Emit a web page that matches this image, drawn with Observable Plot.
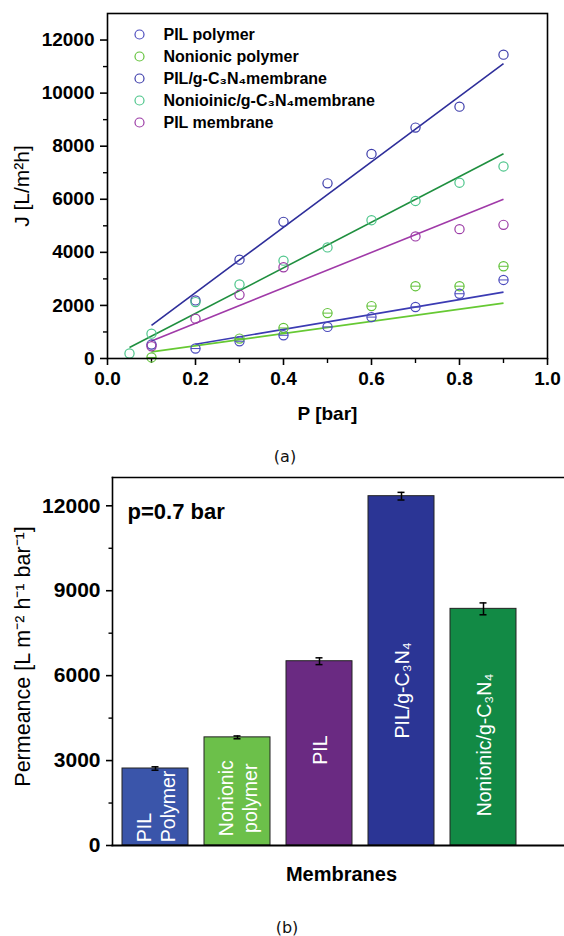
<!DOCTYPE html>
<html><head><meta charset="utf-8">
<script src="https://cdn.jsdelivr.net/npm/d3@7"></script>
<script src="https://cdn.jsdelivr.net/npm/@observablehq/plot@0.6"></script>
<style>
body{margin:0;background:#fff}
#wrap{position:relative;width:564px;height:936px;overflow:hidden;background:#fff}
.cap{position:absolute;font-family:"DejaVu Sans",sans-serif;font-size:16px;transform:translate(-50%,-50%);color:#111}
</style>
</head><body><div id="wrap"></div>
<script>
// ---------- (a) flux vs pressure ----------
const seriesNames = ["PIL polymer", "Nonionic polymer", "PIL/g-C₃N₄membrane", "Nonioinic/g-C₃N₄membrane", "PIL membrane"];
const pilPolymerP = [0.2, 0.3, 0.4, 0.5, 0.6, 0.7, 0.8, 0.9];
const pilPolymerJ = [375, 650, 875, 1190, 1560, 1940, 2440, 2960];
const nonionicPolymerP = [0.1, 0.3, 0.4, 0.5, 0.6, 0.7, 0.8, 0.9];
const nonionicPolymerJ = [40, 750, 1150, 1710, 1975, 2725, 2725, 3475];
const pilGcnP = [0.1, 0.2, 0.3, 0.4, 0.5, 0.6, 0.7, 0.8, 0.9];
const pilGcnJ = [525, 2190, 3725, 5150, 6600, 7710, 8700, 9490, 11450];
const nonionicGcnP = [0.05, 0.1, 0.2, 0.3, 0.4, 0.5, 0.6, 0.7, 0.8, 0.9];
const nonionicGcnJ = [187, 937, 2125, 2787, 3687, 4187, 5212, 5937, 6625, 7237];
const pilMemP = [0.1, 0.2, 0.3, 0.4, 0.7, 0.8, 0.9];
const pilMemJ = [462, 1500, 2400, 3437, 4600, 4875, 5037];
// fitted lines, end points
const fitP0 = [0.2, 0.1, 0.1, 0.05, 0.1];
const fitJ0 = [537, 250, 1250, 412, 662];
const fitP1 = [0.9, 0.9, 0.9, 0.9, 0.9];
const fitJ1 = [2500, 2087, 11110, 7712, 6000];
const xTicks = [0, 0.2, 0.4, 0.6, 0.8, 1.0];
const xMinor = [0.1, 0.3, 0.5, 0.7, 0.9];
const yTicks = [0, 2000, 4000, 6000, 8000, 10000, 12000];
const yMinor = [1000, 3000, 5000, 7000, 9000, 11000];

// styles
const markerColors = ["#4b4bbd", "#62c23a", "#3c3caa", "#4cc58a", "#9b3aa5"];
const lineColors = ["#3b3bb3", "#66c933", "#2e2e9a", "#1f8f3f", "#a03aa8"];
const hasBar = [true, true, false, false, false];

const allP = [pilPolymerP, nonionicPolymerP, pilGcnP, nonionicGcnP, pilMemP];
const allJ = [pilPolymerJ, nonionicPolymerJ, pilGcnJ, nonionicGcnJ, pilMemJ];
const points = allP.flatMap((ps, i) => ps.map((p, k) => ({p, j: allJ[i][k], color: markerColors[i], bar: hasBar[i]})));
const fits = seriesNames.map((s, i) => ({p0: fitP0[i], j0: fitJ0[i], p1: fitP1[i], j1: fitJ1[i], color: lineColors[i]}));

const barSymbol = {draw(ctx, size) { const r = Math.sqrt(size / Math.PI); ctx.moveTo(-r, 0); ctx.lineTo(r, 0); }};
const FONT = "'Liberation Sans', Arial, sans-serif";

const legendMarks = seriesNames.flatMap((name, i) => [
  Plot.dot([name], {x: null, y: null, frameAnchor: "top-left", dx: 32, dy: 21 + 22 * i, r: 4.5, stroke: markerColors[i], strokeWidth: 1.2}),
  Plot.text([name], {x: null, y: null, text: d => d, frameAnchor: "top-left", dx: 56, dy: 21 + 22 * i, textAnchor: "start", lineAnchor: "middle", fontSize: 16, fontWeight: "bold"})
]);

const chartA = Plot.plot({
  width: 564, height: 440,
  marginTop: 13, marginBottom: 82, marginLeft: 107, marginRight: 17,
  x: {domain: [0, 1], axis: null},
  y: {domain: [0, 13000], axis: null},
  color: {type: "identity"},
  style: {fontFamily: FONT, fontWeight: "bold", background: "white", color: "black", overflow: "visible"},
  marks: [
    Plot.axisY({ticks: yTicks, tickFormat: "d", tickSize: 7, tickPadding: 6, fontSize: 19, strokeWidth: 1.6, label: null}),
    Plot.axisY({ticks: yMinor, tickFormat: () => "", tickSize: 4, strokeWidth: 1.4, label: null}),
    Plot.axisX({ticks: xTicks, tickFormat: d3.format(".1f"), tickSize: 7, tickPadding: 6, fontSize: 19, strokeWidth: 1.6, label: null}),
    Plot.axisX({ticks: xMinor, tickFormat: () => "", tickSize: 5, strokeWidth: 1.4, label: null}),
    Plot.link(fits, {x1: "p0", y1: "j0", x2: "p1", y2: "j1", stroke: "color", strokeWidth: 1.6}),
    Plot.dot(points, {x: "p", y: "j", r: 4.6, stroke: "color", strokeWidth: 1.2}),
    Plot.dot(points.filter(d => d.bar), {x: "p", y: "j", r: 4.6, stroke: "color", strokeWidth: 1, symbol: barSymbol}),
    ...legendMarks,
    Plot.text(["J [L/m²h]"], {x: null, y: null, text: d => d, frameAnchor: "left", dx: -85, textAnchor: "middle", rotate: -90, fontSize: 21, fontWeight: "normal"}),
    Plot.text(["P [bar]"], {x: null, y: null, text: d => d, frameAnchor: "bottom", dy: 55, textAnchor: "middle", lineAnchor: "middle", fontSize: 19, fontWeight: "bold"}),
    Plot.frame({strokeWidth: 1.6})
  ]
});

// ---------- (b) permeance bars ----------
const membranes = ["PIL Polymer", "Nonionic polymer", "PIL", "PIL/g-C3N4", "Nonionic/g-C3N4"];
const permeance = [2720, 3820, 6510, 12340, 8360];
const permeanceErr = [60, 50, 120, 135, 210];
const barLabels = ["PIL\nPolymer", "Nonionic\npolymer", "PIL", "PIL/g-C₃N₄", "Nonionic/g-C₃N₄"];
const permTicks = [0, 3000, 6000, 9000, 12000];
const permMinor = [1500, 4500, 7500, 10500];
// styles / label placement
const barColors = ["#3a55aa", "#6cc04a", "#6a2a82", "#2b3595", "#128a45"];
const labelAt = [116, 1670, 3370, 5480, 3550];

const rows = membranes.map((m, i) => ({m, v: permeance[i], e: permeanceErr[i], fill: barColors[i], label: barLabels[i], at: labelAt[i], i}));

const chartB = Plot.plot({
  width: 564, height: 436,
  marginTop: 17, marginBottom: 51, marginLeft: 112, marginRight: 0,
  x: {domain: membranes, paddingInner: 0.2, paddingOuter: 0.323, align: 0.168, axis: null},
  y: {domain: [0, 13000], axis: null},
  color: {type: "identity"},
  style: {fontFamily: FONT, fontWeight: "bold", background: "white", color: "black", overflow: "visible"},
  marks: [
    Plot.axisY({ticks: permTicks, tickFormat: "d", tickSize: 6, tickPadding: 6, fontSize: 21, strokeWidth: 1.6, label: null}),
    Plot.axisY({ticks: permMinor, tickFormat: () => "", tickSize: 3.5, strokeWidth: 1.4, label: null}),
    Plot.barY(rows, {x: "m", y: "v", fill: "fill", stroke: "#222", strokeWidth: 1}),
    Plot.ruleX(rows, {x: "m", y1: d => d.v - d.e, y2: d => d.v + d.e, strokeWidth: 1.5}),
    Plot.tickY(rows, {x: "m", y: d => d.v + d.e, insetLeft: 29.5, insetRight: 29.5, strokeWidth: 1.5}),
    Plot.tickY(rows, {x: "m", y: d => d.v - d.e, insetLeft: 29.5, insetRight: 29.5, strokeWidth: 1.5}),
    Plot.text(rows.filter(d => d.i === 0), {x: "m", y: "at", text: "label", rotate: -90, textAnchor: "start", lineAnchor: "middle", lineHeight: 1.2, fill: "white", fontSize: 19.5, fontWeight: "normal"}),
    Plot.text(rows.filter(d => d.i > 0), {x: "m", y: "at", text: "label", rotate: -90, textAnchor: "middle", lineAnchor: "middle", lineHeight: 1.2, fill: "white", fontSize: 19.5, fontWeight: "normal"}),
    Plot.text(["p=0.7 bar"], {x: null, y: null, text: d => d, frameAnchor: "top-left", dx: 15, dy: 34, textAnchor: "start", lineAnchor: "middle", fontSize: 22, fontWeight: "bold"}),
    Plot.text(["Permeance [L m⁻² h⁻¹ bar⁻¹]"], {x: null, y: null, text: d => d, frameAnchor: "left", dx: -89, dy: -5, textAnchor: "middle", rotate: -90, fontSize: 21.5, fontWeight: "normal"}),
    Plot.text(["Membranes"], {x: null, y: null, text: d => d, frameAnchor: "bottom", dx: 3, dy: 29, textAnchor: "middle", lineAnchor: "middle", fontSize: 20, fontWeight: "bold"}),
    Plot.frame({anchor: "left", strokeWidth: 1.6}),
    Plot.frame({anchor: "top", strokeWidth: 1.6}),
    Plot.frame({anchor: "bottom", strokeWidth: 2})
  ]
});

const wrap = document.getElementById("wrap");
chartA.style.position = "absolute"; chartA.style.left = "0px"; chartA.style.top = "0px";
chartB.style.position = "absolute"; chartB.style.left = "0px"; chartB.style.top = "460px";
wrap.appendChild(chartA);
wrap.appendChild(chartB);
const capA = document.createElement("div"); capA.className = "cap"; capA.textContent = "(a)";
capA.style.left = "285px"; capA.style.top = "456px";
const capB = document.createElement("div"); capB.className = "cap"; capB.textContent = "(b)";
capB.style.left = "287px"; capB.style.top = "927px";
wrap.appendChild(capA); wrap.appendChild(capB);
</script>
</body></html>
